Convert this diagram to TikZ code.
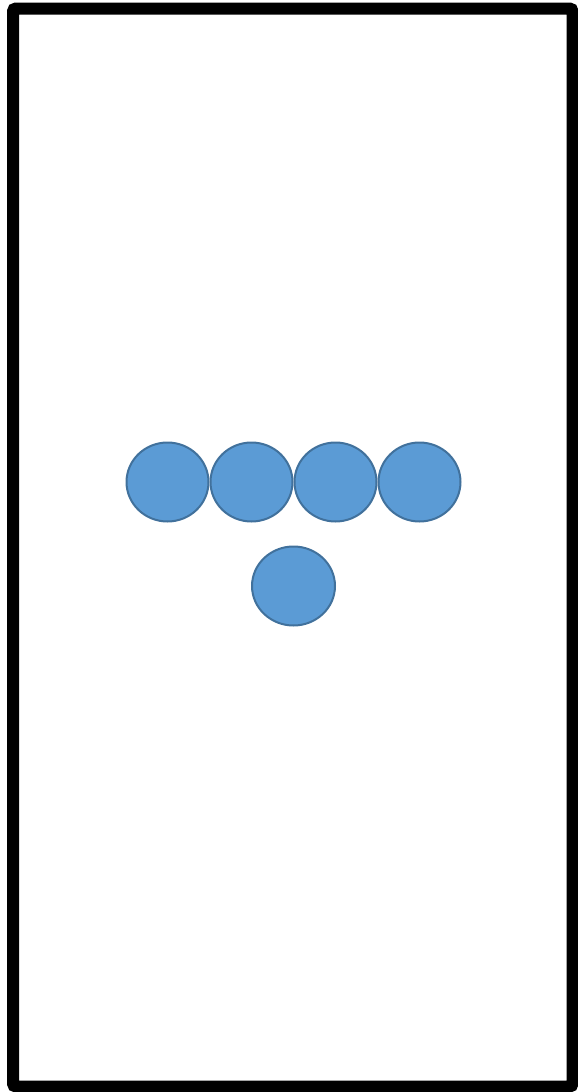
\documentclass[tikz,border=0pt]{standalone}
\usetikzlibrary{positioning,calc,shapes.geometric}
\definecolor{ballfill}{RGB}{91,155,213}
\definecolor{balledge}{RGB}{65,113,156}

\begin{document}
\begin{tikzpicture}[x=1pt,y=-1pt,node distance=0pt]
\tikzstyle{ball}=[ellipse,draw=balledge,line width=2pt,fill=ballfill,minimum width=82pt,minimum height=79pt,inner sep=0pt]
\useasboundingbox (0,0) rectangle (578,1092);
\draw[line width=12pt,rounded corners=3pt] (13,8.5) rectangle (572.5,1086.5);
\node[ball] (b1) at (167.5,482) {};
\node[ball,right=of b1] (b2) {};
\node[ball,right=of b2] (b3) {};
\node[ball,right=of b3] (b4) {};
\node[ball,minimum width=83pt,minimum height=79pt] (b5) at ($(b2)!.5!(b3)+(0,104)$) {};
\end{tikzpicture}
\end{document}
